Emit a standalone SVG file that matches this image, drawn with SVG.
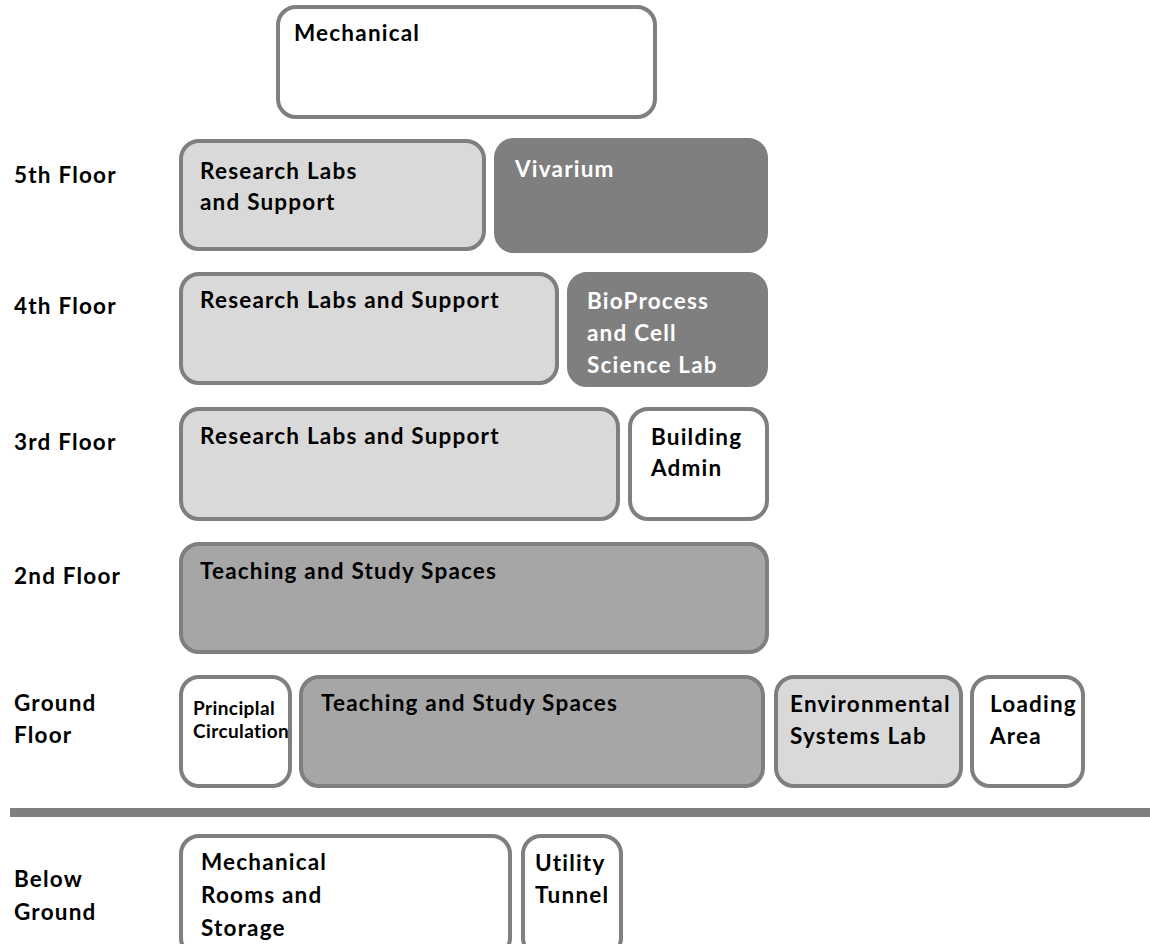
<svg xmlns="http://www.w3.org/2000/svg" width="1150" height="944" viewBox="0 0 1150 944">
  <style>
    .box { stroke: #7f7f7f; stroke-width: 4; }
    .white { fill: #ffffff; }
    .light { fill: #d9d9d9; }
    .mid { fill: #a6a6a6; }
    .dark { fill: #7f7f7f; }
    text { font-family: Lato, "Liberation Sans", sans-serif; font-weight: bold; font-size: 22.5px; letter-spacing: 1.2px; fill: #000; }
    .inv { fill: #ffffff; }
    .small { font-size: 19px; letter-spacing: 0.4px; }
  </style>
  <rect width="1150" height="944" fill="#ffffff"/>

  <!-- floor labels -->
  <g id="floor-labels">
    <text x="14" y="183">5th Floor</text>
    <text x="14" y="314">4th Floor</text>
    <text x="14" y="450">3rd Floor</text>
    <text x="14" y="584">2nd Floor</text>
    <text x="14" y="711">Ground</text>
    <text x="14" y="743">Floor</text>
    <text x="14" y="887">Below</text>
    <text x="14" y="920">Ground</text>
  </g>

  <!-- roof -->
  <g id="mechanical">
    <rect class="box white" x="278" y="7" width="377" height="110" rx="18"/>
    <text x="294" y="41">Mechanical</text>
  </g>

  <!-- 5th floor -->
  <g id="research-5">
    <rect class="box light" x="181" y="141" width="303" height="108" rx="18"/>
    <text x="200" y="179">Research Labs</text>
    <text x="200" y="210">and Support</text>
  </g>
  <g id="vivarium">
    <rect class="box dark" x="496" y="140" width="270" height="111" rx="18"/>
    <text class="inv" x="515" y="177">Vivarium</text>
  </g>

  <!-- 4th floor -->
  <g id="research-4">
    <rect class="box light" x="181" y="274" width="376" height="109" rx="18"/>
    <text x="200" y="308">Research Labs and Support</text>
  </g>
  <g id="bioprocess">
    <rect class="box dark" x="569" y="274" width="197" height="111" rx="18"/>
    <text class="inv" x="587" y="309">BioProcess</text>
    <text class="inv" x="587" y="341">and Cell</text>
    <text class="inv" x="587" y="373">Science Lab</text>
  </g>

  <!-- 3rd floor -->
  <g id="research-3">
    <rect class="box light" x="181" y="409" width="437" height="110" rx="18"/>
    <text x="200" y="444">Research Labs and Support</text>
  </g>
  <g id="building-admin">
    <rect class="box white" x="630" y="409" width="137" height="110" rx="18"/>
    <text x="651" y="445">Building</text>
    <text x="651" y="476">Admin</text>
  </g>

  <!-- 2nd floor -->
  <g id="teaching-2">
    <rect class="box mid" x="181" y="544" width="586" height="108" rx="18"/>
    <text x="200" y="579">Teaching and Study Spaces</text>
  </g>

  <!-- ground floor -->
  <g id="circulation">
    <rect class="box white" x="181" y="677" width="109" height="109" rx="18"/>
    <text class="small" x="193" y="715">Principlal</text>
    <text class="small" x="193" y="738">Circulation</text>
  </g>
  <g id="teaching-g">
    <rect class="box mid" x="301" y="677" width="462" height="109" rx="18"/>
    <text x="321" y="711">Teaching and Study Spaces</text>
  </g>
  <g id="environmental">
    <rect class="box light" x="776" y="677" width="185" height="109" rx="18"/>
    <text x="790" y="712">Environmental</text>
    <text x="790" y="744">Systems Lab</text>
  </g>
  <g id="loading">
    <rect class="box white" x="972" y="677" width="111" height="109" rx="18"/>
    <text x="990" y="712">Loading</text>
    <text x="990" y="744">Area</text>
  </g>

  <!-- grade line -->
  <rect x="10" y="808" width="1140" height="9" fill="#7f7f7f"/>

  <!-- below ground -->
  <g id="mech-rooms">
    <rect class="box white" x="181" y="836" width="329" height="120" rx="18"/>
    <text x="201" y="870">Mechanical</text>
    <text x="201" y="903">Rooms and</text>
    <text x="201" y="936">Storage</text>
  </g>
  <g id="utility-tunnel">
    <rect class="box white" x="523" y="836" width="98" height="120" rx="18"/>
    <text x="535" y="871">Utility</text>
    <text x="535" y="903">Tunnel</text>
  </g>
</svg>
